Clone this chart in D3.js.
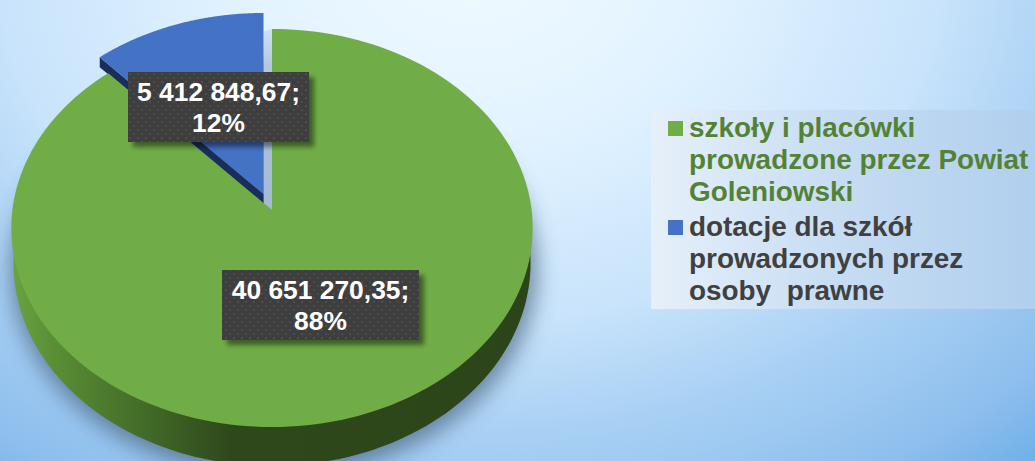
<!DOCTYPE html>
<html><head><meta charset="utf-8">
<script src="https://cdn.jsdelivr.net/npm/d3@7"></script>
<style>html,body{margin:0;padding:0;overflow:hidden;background:#fff}svg{display:block}text{font-family:"Liberation Sans",Arial,sans-serif;font-weight:700}</style>
</head><body><div id="c"></div>
<script>
const categories=["szkoły i placówki prowadzone przez Powiat Goleniowski","dotacje dla szkół prowadzonych przez osoby  prawne"];
const values=[40651270.35,5412848.67];
const valueLabels=["40 651 270,35;","5 412 848,67;"];
const percentLabels=["88%","12%"];
const legendLines=[["szkoły i placówki","prowadzone przez Powiat","Goleniowski"],["dotacje dla szkół","prowadzonych przez","osoby  prawne"]];
const colors=["#70ad47","#4472c4"];
const legendTextColors=["#548235","#404040"];

const W=1035,H=461;
const svg=d3.select("#c").append("svg").attr("width",W).attr("height",H);
const defs=svg.append("defs");
const bg=defs.append("radialGradient").attr("id","bg").attr("gradientUnits","userSpaceOnUse")
 .attr("cx",0).attr("cy",0).attr("r",862).attr("gradientTransform","translate(470,-40) scale(1,0.77)");
[[0,"#f0faff"],[0.27,"#e2f3ff"],[0.55,"#c8e3fb"],[0.69,"#add3f5"],[0.75,"#a4cdf3"],[0.9,"#8dbeed"],[1,"#70b0e8"]].forEach(s=>bg.append("stop").attr("offset",s[0]).attr("stop-color",s[1]));
const sg=defs.append("linearGradient").attr("id","side").attr("gradientUnits","userSpaceOnUse").attr("x1",10).attr("x2",535).attr("y1",0).attr("y2",0);
[[0,"#6ba543"],[0.08,"#5a8f36"],[0.27,"#416827"],[0.42,"#2e481b"],[1,"#2c4419"]].forEach(s=>sg.append("stop").attr("offset",s[0]).attr("stop-color",s[1]));
const st=defs.append("linearGradient").attr("id","strip").attr("x1",0).attr("x2",0).attr("y1",0).attr("y2",1);
[[0,"#cfe2f4"],[0.2,"#b4c7dc"],[1,"#a5b9d2"]].forEach(s=>st.append("stop").attr("offset",s[0]).attr("stop-color",s[1]));
const lg=defs.append("linearGradient").attr("id","lg").attr("x1",0).attr("x2",1).attr("y1",0).attr("y2",0);
[[0,"#e6f0fa"],[0.5,"#c6dcf2"],[1,"#b0cfee"]].forEach(s=>lg.append("stop").attr("offset",s[0]).attr("stop-color",s[1]));
const pat=defs.append("pattern").attr("id","dots").attr("width",8).attr("height",8).attr("patternUnits","userSpaceOnUse");
pat.append("rect").attr("width",8).attr("height",8).attr("fill","#3e3e3e");
[[2,2],[6,6]].forEach(p=>pat.append("circle").attr("cx",p[0]).attr("cy",p[1]).attr("r",0.9).attr("fill","#545454"));
const blur=defs.append("filter").attr("id","blur").attr("x","-20%").attr("y","-20%").attr("width","140%").attr("height","140%");
blur.append("feGaussianBlur").attr("stdDeviation",11);
const sb=defs.append("filter").attr("id","sb").attr("x","-20%").attr("y","-30%").attr("width","140%").attr("height","160%");
sb.append("feGaussianBlur").attr("stdDeviation",2.5);

svg.append("rect").attr("width",W).attr("height",H).attr("fill","url(#bg)");

const arcs=d3.pie().sort(null).value(d=>d)(values);
// perspective tilted disc projection
const K=-0.0905;
function proj(a,R,S,x0,y0){const u=Math.sin(a),v=-Math.cos(a),w=1+K*v;return [x0+R*u/w,y0+S*v/w];}
function slicePath(d,R,S,x0,y0){
  const n=180,pts=[[x0,y0]];
  d3.range(n+1).forEach(i=>pts.push(proj(d.startAngle+(d.endAngle-d.startAngle)*i/n,R,S,x0,y0)));
  return d3.line().curve(d3.curveLinearClosed)(pts);
}
const face={R:259.6,S:197.4,x0:272,y0:210};
const bot={R:257.5,S:201.3,x0:272,y0:244.6};
const off={x:-8.5,y:-16},depthB=10;
const blueTop={R:face.R,S:face.S,x0:face.x0+off.x,y0:face.y0+off.y};
const whole={startAngle:0,endAngle:2*Math.PI};
const call=(d,g)=>slicePath(d,g.R,g.S,g.x0,g.y0);

// soft shadow under the disc
svg.append("path").attr("d",call(whole,{R:bot.R+4,S:bot.S+4,x0:bot.x0+2,y0:bot.y0+6})).attr("fill","#44607c").attr("opacity",0.7).attr("filter","url(#blur)");

// pale cut face next to the exploded wedge
const bEnd=proj(arcs[1].endAngle,blueTop.R,blueTop.S,blueTop.x0,blueTop.y0);
const gTop=proj(arcs[0].startAngle,face.R,face.S,face.x0,face.y0);
svg.append("path").attr("fill","url(#strip)").attr("d",d3.line().curve(d3.curveLinearClosed)([[bEnd[0],gTop[1]+2],[gTop[0],gTop[1]],[face.x0,face.y0],[blueTop.x0,blueTop.y0+depthB]]));

// green side wall
svg.append("path").attr("d",call(arcs[0],bot)).attr("fill","url(#side)");
// blue wedge wall along the cut
const bCorner=proj(arcs[1].startAngle,blueTop.R,blueTop.S,blueTop.x0,blueTop.y0);
svg.append("path").attr("fill","#1a2e5c").attr("d",d3.line().curve(d3.curveLinearClosed)([[blueTop.x0,blueTop.y0],bCorner,[bCorner[0],bCorner[1]+depthB],[blueTop.x0,blueTop.y0+depthB]]));
// faces
svg.append("path").attr("d",call(arcs[1],blueTop)).attr("fill",colors[1]);
svg.append("path").attr("d",call(arcs[0],face)).attr("fill",colors[0]);

// data labels
const labelBoxes=[{x:222,y:270,w:197,h:70},{x:128,y:72,w:181,h:70}];
arcs.forEach((d,i)=>{
  const b=labelBoxes[i],g=svg.append("g");
  g.append("rect").attr("x",b.x+5).attr("y",b.y+5).attr("width",b.w).attr("height",b.h).attr("fill","#000").attr("opacity",0.45).attr("filter","url(#sb)");
  g.append("rect").attr("x",b.x).attr("y",b.y).attr("width",b.w).attr("height",b.h).attr("fill","url(#dots)");
  g.append("text").attr("x",b.x+b.w/2).attr("y",b.y+29).attr("text-anchor","middle").attr("font-size",26.4).attr("fill","#fff").text(valueLabels[i]);
  g.append("text").attr("x",b.x+b.w/2).attr("y",b.y+60).attr("text-anchor","middle").attr("font-size",26.4).attr("fill","#fff").text(percentLabels[i]);
});

// legend
svg.append("rect").attr("x",651).attr("y",110).attr("width",384).attr("height",199).attr("fill","url(#lg)");
const legY=[[137,169,201],[236,268,300]],swY=[121,220];
categories.forEach((c,i)=>{
  svg.append("rect").attr("x",668).attr("y",swY[i]).attr("width",15).attr("height",15).attr("fill",colors[i]);
  legendLines[i].forEach((t,j)=>svg.append("text").attr("x",689).attr("y",legY[i][j]).attr("font-size",27.9).attr("fill",legendTextColors[i]).attr("xml:space","preserve").style("white-space","pre").text(t));
});
</script></body></html>
